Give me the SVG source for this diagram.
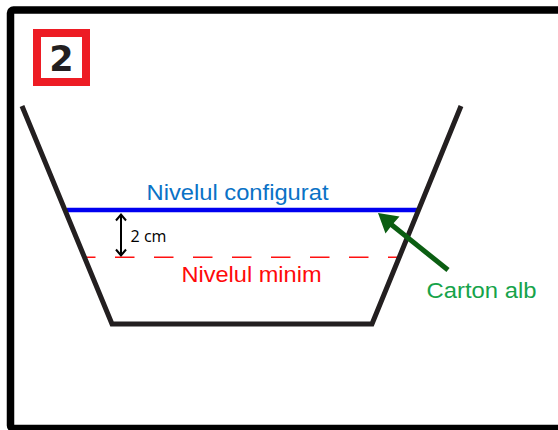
<svg xmlns="http://www.w3.org/2000/svg" width="558" height="430" viewBox="0 0 558 430">
  <style>
    .frame { fill: none; stroke: #000; stroke-width: 7.5; }
    .vessel { fill: none; stroke: #231f20; stroke-width: 5; stroke-linejoin: miter; }
    .lbl { font-family: "Liberation Sans", Arial, sans-serif; }
    .gap { fill: none; stroke: #000; stroke-width: 2; }
  </style>
  <rect width="558" height="430" fill="#fff"/>

  <!-- outer frame, right side runs off the page -->
  <rect id="frame" class="frame" x="10.5" y="10" width="600" height="418.5" rx="3"/>

  <!-- step badge -->
  <g id="badge">
    <rect x="37" y="33" width="49" height="49" fill="#fff" stroke="#ed1c24" stroke-width="8"/>
    <text x="61.5" y="70.5" text-anchor="middle" font-family="'DejaVu Sans', sans-serif" font-weight="bold" font-size="35" fill="#231f20">2</text>
  </g>

  <!-- configured level -->
  <g id="level-configured">
    <line x1="67" y1="210" x2="417" y2="210" stroke="#0000f0" stroke-width="4.5"/>
    <text class="lbl" x="146.5" y="200" font-size="21.5" fill="#0a72c6" textLength="182" lengthAdjust="spacingAndGlyphs">Nivelul configurat</text>
  </g>

  <!-- minimum level -->
  <g id="level-minimum">
    <line x1="86" y1="257.3" x2="398" y2="257.3" stroke="#ff1010" stroke-width="1.6" stroke-dasharray="19.5 19.5" stroke-dashoffset="10"/>
    <text class="lbl" x="181.5" y="281.7" font-size="21.5" fill="#ff0a0a" textLength="140" lengthAdjust="spacingAndGlyphs">Nivelul minim</text>
  </g>

  <!-- vessel cross-section -->
  <g id="vessel">
    <polyline class="vessel" points="22,106 112,324 372,324 461,106"/>
  </g>

  <g id="connectors">
    <!-- 2 cm gap between the two levels -->
    <line class="gap" x1="121" y1="215" x2="121" y2="255"/>
    <polyline class="gap" points="116,220.5 121,214.5 126,220.5"/>
    <polyline class="gap" points="116,249.5 121,255.5 126,249.5"/>
    <!-- pointer to the white cardboard edge -->
    <line x1="448" y1="270" x2="390" y2="223.5" stroke="#0b5e12" stroke-width="5"/>
    <polygon points="378,213 399.5,216.5 392,225 385.5,233.5" fill="#0b5e12"/>
  </g>

  <g id="label-gap">
    <text x="130.5" y="241.7" font-family="'Open Sans', sans-serif" font-size="16" fill="#000" textLength="36" lengthAdjust="spacingAndGlyphs">2 cm</text>
  </g>

  <g id="label-cardboard">
    <text class="lbl" x="426.5" y="297.7" font-size="22.5" fill="#16a34a" textLength="110" lengthAdjust="spacingAndGlyphs">Carton alb</text>
  </g>
</svg>
